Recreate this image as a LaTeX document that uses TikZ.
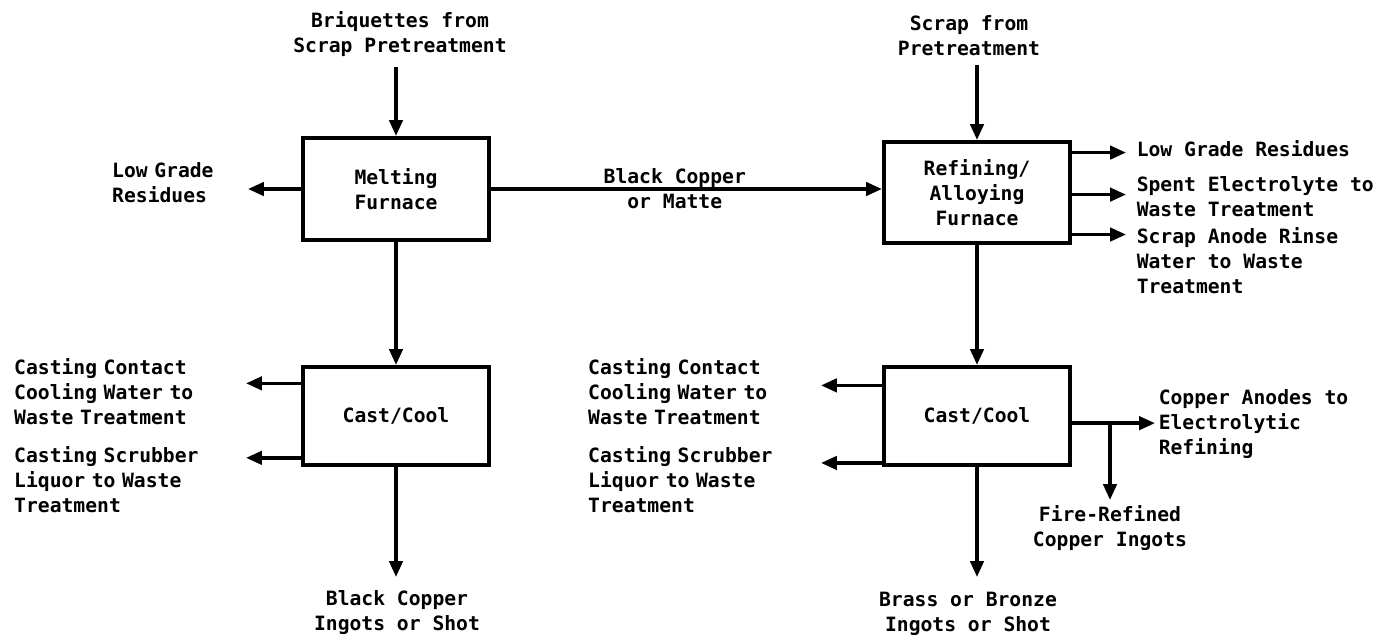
\documentclass[tikz,border=0pt]{standalone}
\usepackage{fontspec}
\setmonofont{DejaVu Sans Mono}
\usetikzlibrary{arrows.meta,calc}
\begin{document}
\begin{tikzpicture}[x=.2mm,y=-.2mm,line width=2pt,>={Triangle[length=9pt,width=7.5pt]},
	font=\ttfamily\bfseries\fontsize{11.2}{14.2}\selectfont,
	unit/.style={draw,line width=2.3pt,minimum width=3.72cm,minimum height=#1,align=center},
	lbl/.style={inner sep=0pt,align=center},
	lblw/.style={inner ysep=0pt,inner xsep=#1,anchor=west,align=left},
	lble/.style={inner sep=0pt,anchor=east,align=left,text width=#1}]
	\useasboundingbox (0,0) rectangle (1375,634);
	\path (396,189) node[unit=2.04cm](melt){Melting\\Furnace}
	(977,192.5) node[unit=2.02cm](refn){Refining/\\Alloying\\Furnace}
	(396,416) node[unit=1.96cm](castl){Cast/Cool}
	(977,416) node[unit=1.96cm](castr){Cast/Cool};
	\path (400,34.5) node[lbl](brq){Briquettes from\\Scrap Pretreatment}
	(969,35.5) node[lbl](scr){Scrap from\\Pretreatment}
	(248,183) node[lble=2.68cm](lowl){Low Grade\\Residues}
	(1126,149) node[lblw=1.8mm](lowr){Low Grade Residues}
	(1126,196.5) node[lblw=1.8mm](spent){Spent Electrolyte to\\Waste Treatment}
	(1126,261) node[lblw=1.8mm](rinse){Scrap Anode Rinse\\Water to Waste\\Treatment}
	(246,392) node[lble=4.6cm](ccwl){Casting Contact\\Cooling Water to\\Waste Treatment}
	(246,480) node[lble=4.6cm](cslq){Casting Scrubber\\Liquor to Waste\\Treatment}
	(821,392) node[lble=4.62cm](ccwr){Casting Contact\\Cooling Water to\\Waste Treatment}
	(821,480) node[lble=4.62cm](csrq){Casting Scrubber\\Liquor to Waste\\Treatment}
	(1155,424.5) node[lblw=.4mm](anod){Copper Anodes to\\Electrolytic\\Refining}
	(1110,504) node[lbl,anchor=north](fire){Fire-Refined\\Copper Ingots}
	(397,589) node[lbl,anchor=north](blk){Black Copper\\Ingots or Shot}
	(968,590) node[lbl,anchor=north](brs){Brass or Bronze\\Ingots or Shot};
	\draw[->,shorten <=1.6mm] (brq.south -| melt.north) -- (melt.north);
	\draw[->,shorten <=1.6mm] (scr.south -| refn.north) -- (refn.north);
	\draw[->] (melt.west) -- (lowl.east |- melt.west);
	\draw[->] (melt.east) -- node[lbl,pos=.47]{Black Copper\\or Matte} (refn.west |- melt.east);
	\draw[->] (melt.south) -- (castl.north);
	\draw[->] (refn.south) -- (castr.north);
	\foreach \f/\n in {.12/lowr,.52/spent,.9/rinse}{
		\coordinate (o) at ($(refn.north east)!\f!(refn.south east)$);
		\draw[->] (o) -- (o -| \n.west);}
	\foreach \b/\n/\f in {castl/ccwl/.18,castl/cslq/.91,castr/ccwr/.2,castr/csrq/.96}{
		\coordinate (o) at ($(\b.north west)!\f!(\b.south west)$);
		\draw[->] (o) -- (o -| \n.east);}
	\coordinate (co) at ($(castr.north east)!.57!(castr.south east)$);
	\draw[->] (co) -- (co -| anod.west);
	\draw[->,shorten >=.8mm] (co -| fire.north) -- (fire.north);
	\draw[->,shorten >=2.4mm] (castl.south) -- (castl.south |- blk.north);
	\draw[->,shorten >=2.6mm] (castr.south) -- (castr.south |- brs.north);
\end{tikzpicture}
\end{document}
